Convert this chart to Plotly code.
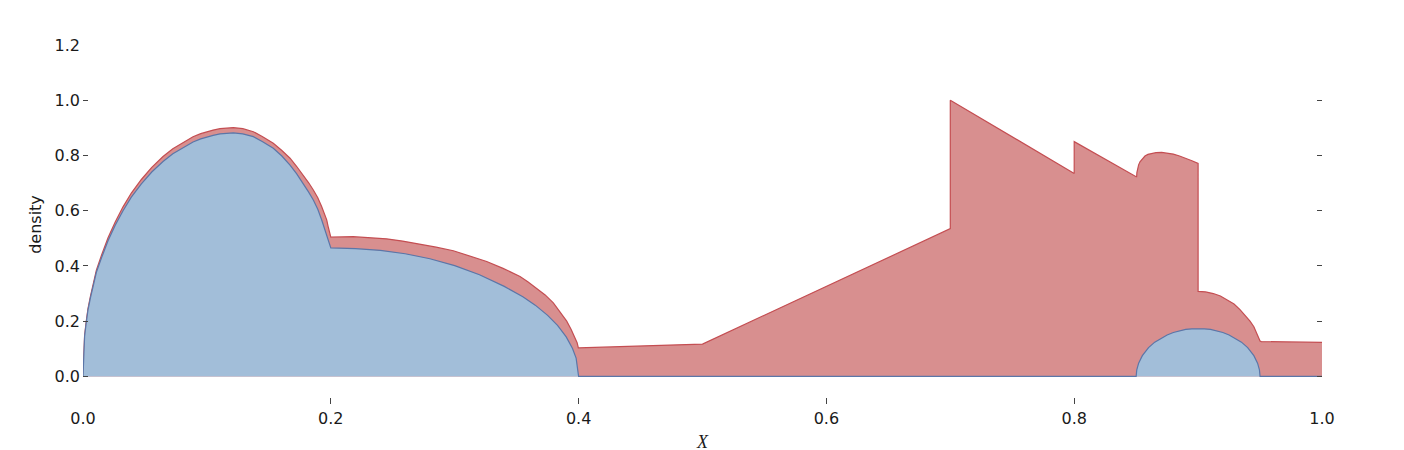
import plotly.graph_objects as go

# Upper (red) density curve
red_x = [0.0, 0.0005, 0.0013, 0.0025, 0.004, 0.006, 0.0085, 0.0108, 0.015, 0.0202,
         0.026, 0.0323, 0.039, 0.0471, 0.0555, 0.0646, 0.0725, 0.0807, 0.0888, 0.095,
         0.1, 0.105, 0.1106, 0.116, 0.1213, 0.129, 0.1375, 0.145, 0.1536, 0.1605,
         0.1671, 0.1725, 0.1778, 0.182, 0.1859, 0.1895, 0.1926, 0.195, 0.1967, 0.198,
         0.1993, 0.2, 0.218, 0.231, 0.245, 0.258, 0.272, 0.285, 0.2989, 0.312,
         0.3258, 0.339, 0.3527, 0.359, 0.366, 0.373, 0.3796, 0.385, 0.3904, 0.394,
         0.3971, 0.3988, 0.3998, 0.5, 0.7, 0.7, 0.8, 0.8, 0.85, 0.8504,
         0.8506, 0.8512, 0.852, 0.8531, 0.855, 0.8571, 0.8595, 0.8625, 0.866, 0.8706,
         0.875, 0.88, 0.885, 0.8908, 0.895, 0.9, 0.9, 0.906, 0.9123, 0.918,
         0.923, 0.929, 0.9338, 0.938, 0.9419, 0.945, 0.9473, 0.949, 0.95, 0.951,
         1.0]
red_y = [0.0, 0.085, 0.148, 0.195, 0.245, 0.29, 0.34, 0.385, 0.44, 0.502,
         0.559, 0.614, 0.664, 0.713, 0.757, 0.796, 0.824, 0.847, 0.868, 0.879,
         0.886, 0.892, 0.897, 0.9, 0.901, 0.897, 0.886, 0.868, 0.844, 0.818,
         0.79, 0.76, 0.729, 0.702, 0.675, 0.647, 0.615, 0.59, 0.567, 0.54,
         0.51, 0.504, 0.506, 0.503, 0.498, 0.49, 0.48, 0.468, 0.455, 0.437,
         0.416, 0.391, 0.362, 0.343, 0.32, 0.295, 0.266, 0.235, 0.2, 0.17,
         0.14, 0.122, 0.103, 0.117, 0.535, 1.0, 0.735, 0.85, 0.723, 0.723,
         0.738, 0.753, 0.766, 0.777, 0.789, 0.798, 0.804, 0.808, 0.81, 0.811,
         0.809, 0.805, 0.798, 0.789, 0.781, 0.771, 0.308, 0.306, 0.3, 0.291,
         0.278, 0.262, 0.242, 0.222, 0.2, 0.18, 0.158, 0.143, 0.128, 0.126,
         0.123]

# Lower (blue) density curve
blue_x = [0.0, 0.0005, 0.0013, 0.0025, 0.004, 0.006, 0.0085, 0.0108, 0.015, 0.0202,
          0.026, 0.0323, 0.039, 0.0471, 0.0555, 0.0646, 0.0725, 0.0807, 0.0888, 0.095,
          0.1, 0.105, 0.1106, 0.116, 0.1213, 0.129, 0.1375, 0.145, 0.1536, 0.1605,
          0.1671, 0.1725, 0.1778, 0.182, 0.1859, 0.1895, 0.1926, 0.195, 0.197, 0.1985,
          0.1995, 0.2, 0.22, 0.24, 0.26, 0.28, 0.3, 0.32, 0.34, 0.355,
          0.365, 0.375, 0.383, 0.39, 0.395, 0.398, 0.4, 0.85, 0.8505, 0.852,
          0.855, 0.86, 0.865, 0.87, 0.875, 0.88, 0.885, 0.89, 0.895, 0.9,
          0.905, 0.91, 0.915, 0.92, 0.925, 0.93, 0.935, 0.94, 0.945, 0.948,
          0.9495, 0.95, 1.0]
blue_y = [0.0, 0.083, 0.145, 0.19, 0.24, 0.284, 0.333, 0.377, 0.43, 0.491,
          0.547, 0.6, 0.649, 0.697, 0.74, 0.778, 0.806, 0.828, 0.849, 0.86,
          0.867, 0.873, 0.878, 0.881, 0.882, 0.878, 0.868, 0.85, 0.826, 0.798,
          0.765, 0.733, 0.699, 0.668, 0.639, 0.605, 0.567, 0.532, 0.5, 0.478,
          0.467, 0.465, 0.463, 0.456, 0.444, 0.426, 0.401, 0.368, 0.326, 0.288,
          0.258, 0.221, 0.185, 0.143, 0.102, 0.066, 0.0, 0.0, 0.024, 0.048,
          0.075, 0.104, 0.124, 0.138, 0.15, 0.159, 0.165, 0.17, 0.172, 0.173,
          0.172, 0.17, 0.165, 0.159, 0.15, 0.138, 0.124, 0.104, 0.075, 0.048,
          0.024, 0.0, 0.0]

x_ticks = [0.0, 0.2, 0.4, 0.6, 0.8, 1.0]
x_tick_text = ["0.0", "0.2", "0.4", "0.6", "0.8", "1.0"]
y_label_vals = [0.0, 0.2, 0.4, 0.6, 0.8, 1.0, 1.2]
y_label_text = ["0.0", "0.2", "0.4", "0.6", "0.8", "1.0", "1.2"]
y_mark_vals = [0.0, 0.2, 0.4, 0.6, 0.8, 1.0]

fig = go.Figure()
fig.add_trace(go.Scatter(
    x=red_x, y=red_y, mode="lines", fill="tozeroy",
    fillcolor="#d88f8f", line=dict(color="#c44e52", width=1.2),
    hoverinfo="skip", yaxis="y"))
fig.add_trace(go.Scatter(
    x=blue_x, y=blue_y, mode="lines", fill="tozeroy",
    fillcolor="#a2bed9", line=dict(color="#5b76a8", width=1.2),
    hoverinfo="skip", yaxis="y2"))

tick_font = dict(family="DejaVu Sans", size=16, color="#1a1a1a")
yrange = [-0.1, 1.2]

# The page body adds an 8px offset, so margins are shifted to compensate.
fig.update_layout(
    width=1404, height=450,
    margin=dict(l=75, r=90, t=37, b=54),
    paper_bgcolor="white", plot_bgcolor="white",
    showlegend=False,
    xaxis=dict(
        range=[0, 1], tickvals=x_ticks, ticktext=x_tick_text,
        ticks="inside", ticklen=6, tickwidth=1, tickcolor="#444444",
        showgrid=False, zeroline=False, showline=False, automargin=False,
        tickfont=tick_font, ticklabelstandoff=3,
        title=dict(text="<i>X</i>", font=dict(family="Liberation Serif", size=18, color="#1a1a1a"),
                   standoff=8),
    ),
    yaxis=dict(
        range=yrange, tickvals=y_label_vals, ticktext=y_label_text,
        ticks="", showgrid=False, zeroline=False, showline=False, automargin=False,
        tickfont=tick_font, ticklabelstandoff=2,
        title=dict(text="density", font=dict(family="DejaVu Sans", size=16, color="#1a1a1a"),
                   standoff=8),
    ),
    yaxis2=dict(
        range=yrange, overlaying="y", side="left", anchor="x",
        tickvals=y_mark_vals, showticklabels=False, automargin=False,
        ticks="inside", ticklen=5, tickwidth=1, tickcolor="#444444",
        mirror="ticks", showgrid=False, zeroline=False, showline=False,
    ),
)

fig.write_html("out.html")
